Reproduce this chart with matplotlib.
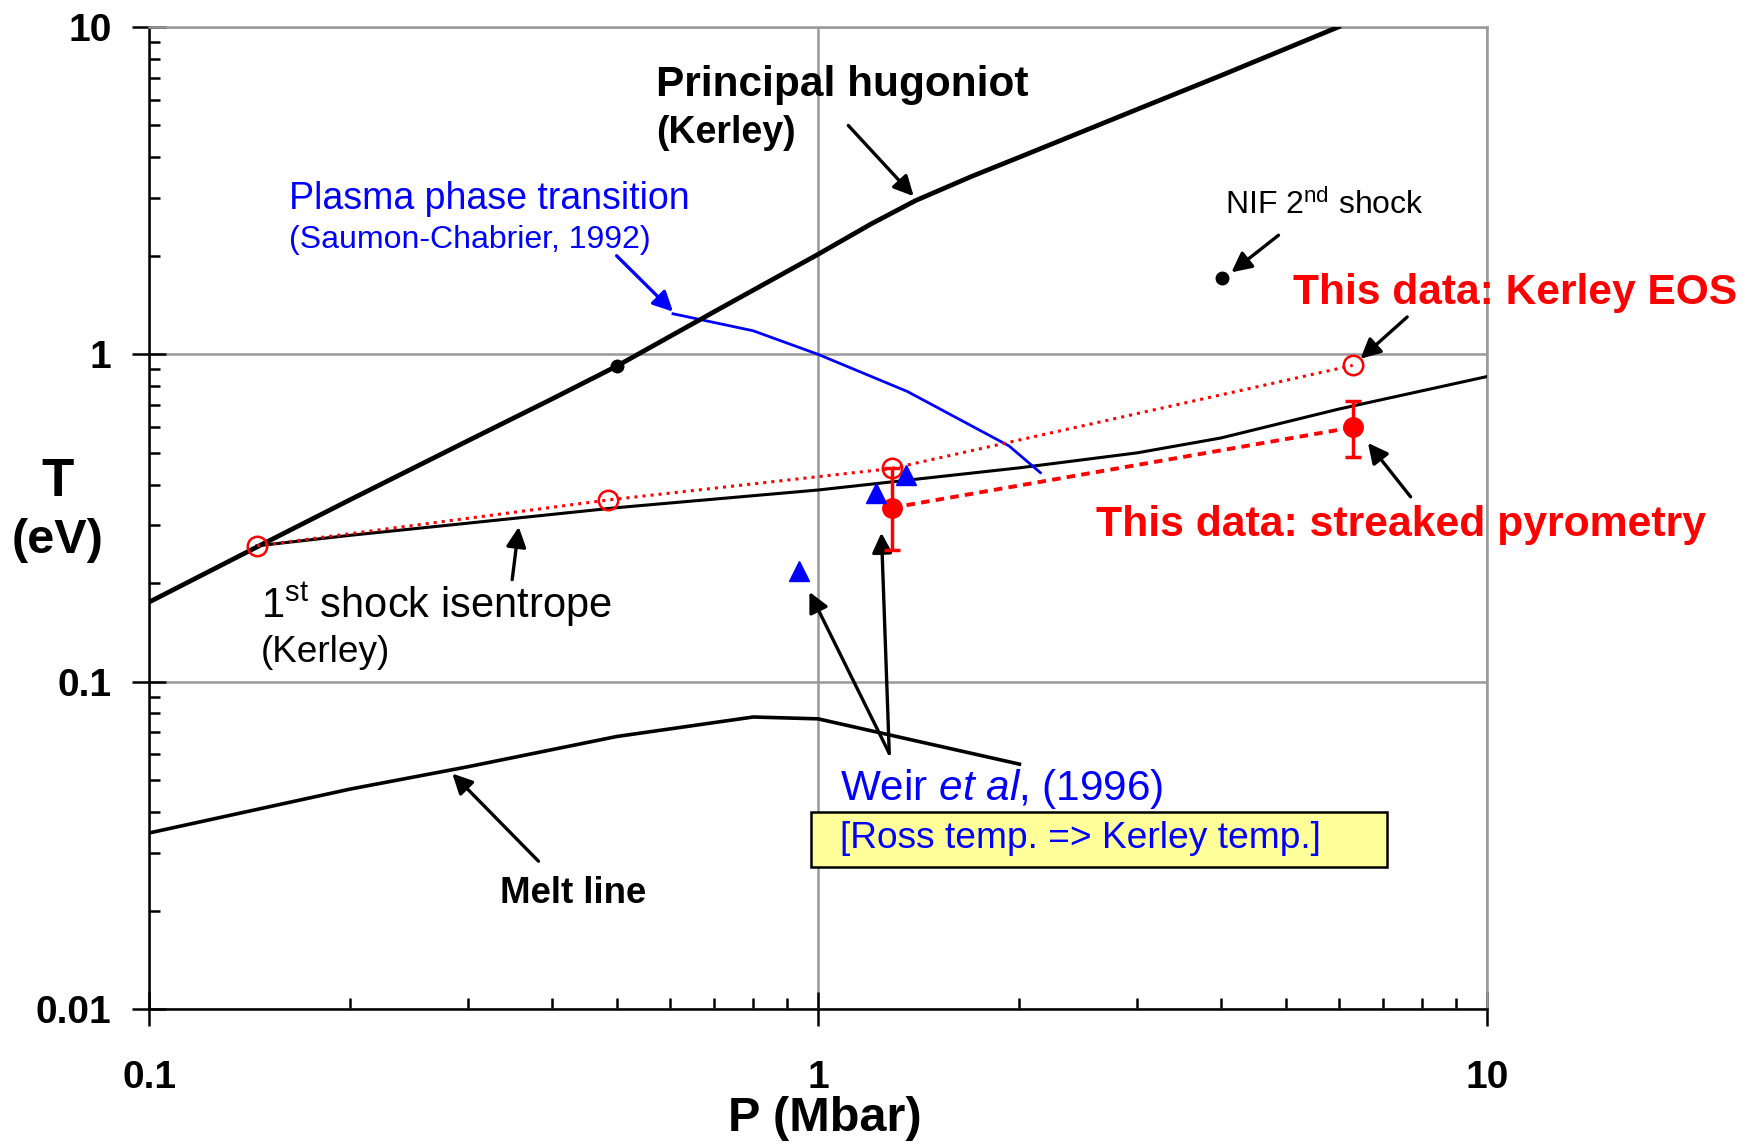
import matplotlib
matplotlib.use("Agg")
import matplotlib.pyplot as plt
from matplotlib.patches import Rectangle
from matplotlib.ticker import LogLocator, FixedFormatter, FixedLocator, NullFormatter

plt.rcParams['font.family'] = ['Liberation Sans', 'DejaVu Sans']
plt.rcParams['mathtext.fontset'] = 'custom'
plt.rcParams['mathtext.rm'] = 'Liberation Sans'
plt.rcParams['mathtext.it'] = 'Liberation Sans:italic'

# Principal hugoniot (Kerley)
hug_p = [0.1, 0.145, 0.2, 0.3, 0.4, 0.5, 0.7, 1.0, 1.2, 1.4, 1.7, 2.0, 3.0, 4.0, 6.0]
hug_t = [0.175, 0.258, 0.36, 0.545, 0.73, 0.92, 1.35, 2.02, 2.5, 2.95, 3.5, 4.0, 5.6, 7.1, 10.0]

# 1st shock isentrope (Kerley)
isen_p = [0.145, 0.2, 0.3, 0.5, 1.0, 2.0, 3.0, 4.0, 6.0, 10.0]
isen_t = [0.26, 0.28, 0.305, 0.34, 0.385, 0.45, 0.50, 0.555, 0.68, 0.855]

# melt line
melt_p = [0.1, 0.2, 0.3, 0.5, 0.8, 1.0, 2.0]
melt_t = [0.0345, 0.047, 0.055, 0.068, 0.078, 0.077, 0.056]

# plasma phase transition (Saumon-Chabrier)
ppt_p = [0.607, 0.8, 1.0, 1.36, 1.93, 2.15]
ppt_t = [1.33, 1.18, 1.0, 0.77, 0.525, 0.435]

# this data, Kerley EOS
eos_p = [0.145, 0.486, 1.29, 6.3]
eos_t = [0.26, 0.359, 0.448, 0.925]

# this data, streaked pyrometry
pyro_p = [1.29, 6.3]
pyro_t = [0.34, 0.598]
pyro_lo = [0.088, 0.114]
pyro_hi = [0.11, 0.12]

# Weir et al (1996)
weir_p = [0.936, 1.22, 1.355]
weir_t = [0.218, 0.376, 0.427]

# hugoniot point and NIF 2nd shock
dot_p = [0.5, 4.02]
dot_t = [0.92, 1.71]

fig = plt.figure(figsize=(17.58, 11.46), dpi=100)
ax = fig.add_axes([0.0848, 0.1195, 0.761, 0.857])
ax.set_xscale('log')
ax.set_yscale('log')
ax.set_xlim(0.1, 10)
ax.set_ylim(0.01, 10)

grey = '#999999'
ax.grid(True, which='major', color=grey, lw=1.8, zorder=0)
for s in ['top', 'right']:
    ax.spines[s].set_color(grey)
    ax.spines[s].set_linewidth(1.8)
for s in ['left', 'bottom']:
    ax.spines[s].set_linewidth(1.8)

ax.xaxis.set_major_locator(FixedLocator([0.1, 1, 10]))
ax.xaxis.set_major_formatter(FixedFormatter(['0.1', '1', '10']))
ax.yaxis.set_major_locator(FixedLocator([0.01, 0.1, 1, 10]))
ax.yaxis.set_major_formatter(FixedFormatter(['0.01', '0.1', '1', '10']))
ax.xaxis.set_minor_locator(LogLocator(base=10, subs=range(2, 10)))
ax.yaxis.set_minor_locator(LogLocator(base=10, subs=range(2, 10)))
ax.xaxis.set_minor_formatter(NullFormatter())
ax.yaxis.set_minor_formatter(NullFormatter())
ax.tick_params(which='major', direction='inout', length=24, width=1.8,
               labelsize=28)
ax.tick_params(axis='x', which='major', pad=25)
ax.tick_params(axis='y', which='major', pad=15)
ax.tick_params(which='minor', direction='in', length=8, width=1.8)
ax.tick_params(top=False, right=False, which='both')
for lab in ax.get_xticklabels() + ax.get_yticklabels():
    lab.set_fontweight('bold')

# curves
ax.plot(hug_p, hug_t, color='black', lw=3.4, zorder=4)
ax.plot(isen_p, isen_t, color='black', lw=2.2, zorder=3)
ax.plot(melt_p, melt_t, color='black', lw=2.6, zorder=3)
ax.plot(ppt_p, ppt_t, color='#0000ff', lw=2.0, zorder=3)

# data points
ax.plot(eos_p, eos_t, color='red', ls=':', lw=2.2, marker='o', ms=14,
        mfc='none', mec='red', mew=1.8, zorder=5)
ax.errorbar(pyro_p, pyro_t, yerr=[pyro_lo, pyro_hi], color='red',
            ls=(0, (2.2, 1.6)), lw=2.8, marker='o', ms=14, capsize=6,
            capthick=2.5, elinewidth=2.5, zorder=5)
ax.plot(weir_p, weir_t, ls='none', marker='^', ms=14, color='#0000ff', zorder=6)
ax.plot(dot_p, dot_t, ls='none', marker='o', ms=9, color='black', zorder=6)

arrow = dict(arrowstyle='-|>', color='black', lw=2.4, mutation_scale=30,
             shrinkA=0, shrinkB=0)
blue_arrow = dict(arrow, color='#0000ff')

# labels
ax.text(0.573, 6.64, 'Principal hugoniot', fontsize=30.5, fontweight='bold',
        va='center', ha='left')
ax.text(0.573, 4.73, '(Kerley)', fontsize=27, fontweight='bold',
        va='center', ha='left')
ax.annotate('', xy=(1.39, 3.04), xytext=(1.11, 5.0), arrowprops=arrow)

ax.text(0.162, 2.99, 'Plasma phase transition', fontsize=27,
        color='#0000ff', va='center', ha='left')
ax.text(0.162, 2.23, '(Saumon-Chabrier, 1992)', fontsize=23,
        color='#0000ff', va='center', ha='left')
ax.annotate('', xy=(0.607, 1.35), xytext=(0.5, 2.0), arrowprops=blue_arrow)

ax.text(4.06, 2.85, r'NIF 2$^{\mathrm{nd}}$ shock', fontsize=23,
        va='center', ha='left')
ax.annotate('', xy=(4.15, 1.78), xytext=(4.88, 2.31), arrowprops=arrow)

ax.text(5.13, 1.54, 'This data: Kerley EOS', fontsize=30.6, fontweight='bold',
        color='red', va='center', ha='left', clip_on=False)
ax.annotate('', xy=(6.47, 0.969), xytext=(7.6, 1.30), arrowprops=arrow)

ax.text(2.60, 0.301, 'This data: streaked pyrometry', fontsize=30.8,
        fontweight='bold', color='red', va='center', ha='left')
ax.annotate('', xy=(6.64, 0.536), xytext=(7.69, 0.367), arrowprops=arrow)

ax.text(0.147, 0.172, r'1$^{\mathrm{st}}$ shock isentrope', fontsize=30,
        va='center', ha='left')
ax.text(0.147, 0.123, '(Kerley)', fontsize=26.6, va='center', ha='left')
ax.annotate('', xy=(0.357, 0.297), xytext=(0.349, 0.205), arrowprops=arrow)

ax.text(0.335, 0.0225, 'Melt line', fontsize=26.4, fontweight='bold',
        va='center', ha='left')
ax.annotate('', xy=(0.284, 0.0524), xytext=(0.382, 0.0283), arrowprops=arrow)

ax.text(1.08, 0.0469, r'Weir $\mathit{et\ al}$, (1996)', fontsize=30.4,
        color='#0000ff', va='center', ha='left')
ax.annotate('', xy=(0.971, 0.188), xytext=(1.278, 0.0604), arrowprops=arrow)
ax.annotate('', xy=(1.244, 0.285), xytext=(1.278, 0.0604), arrowprops=arrow)

ax.add_patch(Rectangle((0.975, 0.0272), 7.1 - 0.975, 0.0401 - 0.0272,
                       facecolor='#ffff99', edgecolor='black', lw=1.8, zorder=5))
ax.text(1.08, 0.0332, '[Ross temp. => Kerley temp.]', fontsize=26.7,
        color='#0000ff', va='center', ha='left', zorder=6)

fig.text(0.033, 0.579, 'T', fontsize=38, fontweight='bold', ha='center', va='center')
fig.text(0.033, 0.528, '(eV)', fontsize=35, fontweight='bold', ha='center', va='center')
fig.text(0.469, 0.0236, 'P (Mbar)', fontsize=35, fontweight='bold', ha='center', va='center')

fig.savefig('out.png', dpi=100)
